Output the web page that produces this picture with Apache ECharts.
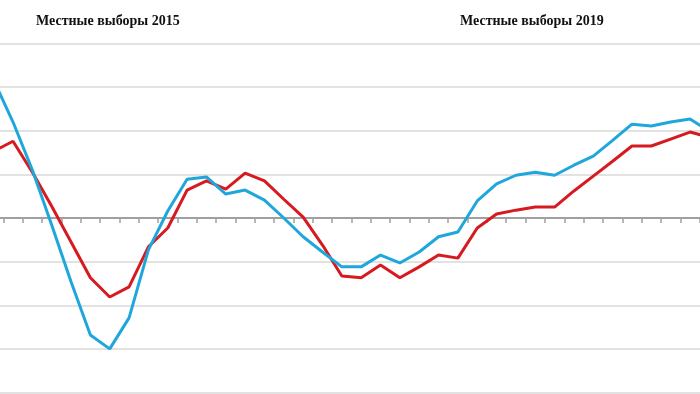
<!DOCTYPE html>
<html>
<head>
<meta charset="utf-8">
<script src="https://cdn.jsdelivr.net/npm/echarts@6/dist/echarts.min.js"></script>
<style>html,body{margin:0;padding:0;background:#fff;overflow:hidden;width:700px;height:394px;}#c{position:absolute;left:-16px;top:0;width:735px;height:394px;}</style>
</head>
<body>
<div id="c"></div>
<script>
const categories = ["1","2","3","4","5","6","7","8","9","10","11","12","13","14","15","16","17","18","19","20","21","22","23","24","25","26","27","28","29","30","31","32","33","34","35","36","37","38"];
const blueValues = [31.6,22.0,11.0,-1.6,-14.6,-26.8,-30.0,-22.9,-7.3,1.6,8.9,9.4,5.5,6.4,4.1,0,-4.3,-7.8,-11.2,-11.2,-8.5,-10.3,-7.8,-4.3,-3.2,3.9,7.8,9.8,10.5,9.8,12.1,14.2,17.8,21.5,21.1,22.0,22.7,19.9];
const redValues = [15.3,17.6,10.5,2.7,-5.5,-13.7,-18.1,-15.8,-6.6,-2.3,6.4,8.5,6.6,10.3,8.5,4.3,0.2,-6.2,-13.3,-13.7,-10.8,-13.7,-11.2,-8.5,-9.2,-2.3,0.9,1.8,2.5,2.5,6.2,9.6,13.0,16.5,16.5,18.1,19.7,18.5];
const annotations = ["Местные выборы 2015","Местные выборы 2019"];
const yTicks = {min:-40, max:40, interval:10};

const chart = echarts.init(document.getElementById('c'), null, {renderer:'canvas'});
chart.setOption({
  animation:false,
  backgroundColor:'#ffffff',
  title:[
    {text:annotations[0], left:47, top:9, textStyle:{fontFamily:'Liberation Serif', fontWeight:'bold', fontSize:14, color:'#111'}},
    {text:annotations[1], left:471, top:9, textStyle:{fontFamily:'Liberation Serif', fontWeight:'bold', fontSize:14, color:'#111'}}
  ],
  grid:{left:0, right:0, top:43.5, bottom:1.5, containLabel:false},
  xAxis:{
    type:'category', data:categories, boundaryGap:true,
    axisLine:{onZero:true, lineStyle:{color:'#a0a0a0', width:2}},
    axisTick:{show:true, interval:0, length:5, lineStyle:{color:'#a0a0a0', width:1.5}},
    axisLabel:{show:false},
    splitLine:{show:false}
  },
  yAxis:{
    type:'value', min:yTicks.min, max:yTicks.max, interval:yTicks.interval,
    axisLine:{show:false}, axisTick:{show:false}, axisLabel:{show:false},
    splitLine:{show:true, lineStyle:{color:'#e2e2e2', width:2}}
  },
  series:[
    {type:'line', data:redValues, symbol:'none', lineStyle:{color:'#d71920', width:3}, z:2},
    {type:'line', data:blueValues, symbol:'none', lineStyle:{color:'#1fa7dc', width:3}, z:3}
  ]
});
</script>
</body>
</html>
